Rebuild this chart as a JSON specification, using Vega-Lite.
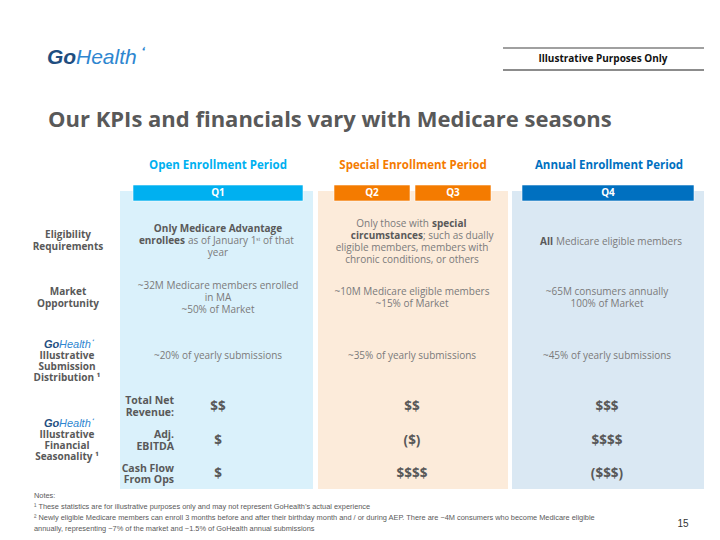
{
  "$schema": "https://vega.github.io/schema/vega-lite/v6.json",
  "width": 720,
  "height": 540,
  "padding": 0,
  "autosize": {"type": "none"},
  "background": "#ffffff",
  "config": {"view": {"stroke": null}, "text": {"font": "Open Sans"}},
  "datasets": {
    "panels": [
      {"p": "bgO", "x": 120, "x2": 313, "y": 191, "y2": 489},
      {"p": "bgS", "x": 318, "x2": 508, "y": 191, "y2": 489},
      {"p": "bgA", "x": 512, "x2": 704, "y": 191, "y2": 489}
    ],
    "bars": [
      {"q": "Q1", "p": "O", "x": 133, "x2": 303, "y": 185, "y2": 201},
      {"q": "Q2", "p": "S", "x": 334, "x2": 410, "y": 185, "y2": 201},
      {"q": "Q3", "p": "S", "x": 415, "x2": 491, "y": 185, "y2": 201},
      {"q": "Q4", "p": "A", "x": 522, "x2": 694, "y": 185, "y2": 201}
    ],
    "headers": [
      {"t": "Open Enrollment Period", "p": "O", "x": 218, "y": 166},
      {"t": "Special Enrollment Period", "p": "S", "x": 413, "y": 166},
      {"t": "Annual Enrollment Period", "p": "A", "x": 609, "y": 166}
    ],
    "rules": [
      {"k": "g", "x": 503, "x2": 704, "y": 48},
      {"k": "k", "x": 503, "x2": 704, "y": 70}
    ],
    "txt": [
      {"s": "title", "t": "Our KPIs and financials vary with Medicare seasons", "x": 48, "y": 127},
      {"s": "ip", "t": "Illustrative Purposes Only", "x": 603, "y": 59},
      {"s": "goB", "t": "Go", "x": 47, "y": 58},
      {"s": "heB", "t": "Health", "x": 76, "y": 58},
      {"s": "leafB", "t": "❛", "x": 141, "y": 51},
      {"s": "goS", "t": "Go", "x": 44, "y": 345},
      {"s": "heS", "t": "Health", "x": 59, "y": 345},
      {"s": "leafS", "t": "❛", "x": 92, "y": 341},
      {"s": "goS", "t": "Go", "x": 44, "y": 424},
      {"s": "heS", "t": "Health", "x": 59, "y": 424},
      {"s": "leafS", "t": "❛", "x": 92, "y": 420},
      {"s": "q", "t": "Q1", "x": 218, "y": 193},
      {"s": "q", "t": "Q2", "x": 372, "y": 193},
      {"s": "q", "t": "Q3", "x": 453, "y": 193},
      {"s": "q", "t": "Q4", "x": 608, "y": 193},
      {"s": "lab", "t": "Eligibility", "x": 68, "y": 235},
      {"s": "lab", "t": "Requirements", "x": 68, "y": 247},
      {"s": "lab", "t": "Market", "x": 68, "y": 292},
      {"s": "lab", "t": "Opportunity", "x": 68, "y": 304},
      {"s": "lab", "t": "Illustrative", "x": 67, "y": 356},
      {"s": "lab", "t": "Submission", "x": 67, "y": 367},
      {"s": "lab", "t": "Distribution ¹", "x": 67, "y": 378},
      {"s": "lab", "t": "Illustrative", "x": 67, "y": 435},
      {"s": "lab", "t": "Financial", "x": 67, "y": 446},
      {"s": "lab", "t": "Seasonality ¹", "x": 67, "y": 457},
      {"s": "b_c", "t": "Only Medicare Advantage", "x": 218, "y": 229},
      {"s": "b_r", "t": "enrollees", "x": 185, "y": 241},
      {"s": "n_l", "t": "as of January 1ˢᵗ of that", "x": 188, "y": 241},
      {"s": "n_c", "t": "year", "x": 218, "y": 253},
      {"s": "n_c", "t": "~32M Medicare members enrolled", "x": 218, "y": 286},
      {"s": "n_c", "t": "in MA", "x": 218, "y": 298},
      {"s": "n_c", "t": "~50% of Market", "x": 218, "y": 310},
      {"s": "n_c", "t": "~20% of yearly submissions", "x": 218, "y": 356},
      {"s": "n_r", "t": "Only those with", "x": 429, "y": 224},
      {"s": "b_l", "t": "special", "x": 432, "y": 224},
      {"s": "b_r", "t": "circumstances", "x": 423, "y": 236},
      {"s": "n_l", "t": "; such as dually", "x": 423, "y": 236},
      {"s": "n_c", "t": "eligible members, members with", "x": 412, "y": 248},
      {"s": "n_c", "t": "chronic conditions, or others", "x": 412, "y": 260},
      {"s": "n_c", "t": "~10M Medicare eligible members", "x": 412, "y": 292},
      {"s": "n_c", "t": "~15% of Market", "x": 412, "y": 304},
      {"s": "n_c", "t": "~35% of yearly submissions", "x": 412, "y": 356},
      {"s": "b_r", "t": "All", "x": 553, "y": 242},
      {"s": "n_l", "t": "Medicare eligible members", "x": 556, "y": 242},
      {"s": "n_c", "t": "~65M consumers annually", "x": 607, "y": 292},
      {"s": "n_c", "t": "100% of Market", "x": 607, "y": 304},
      {"s": "n_c", "t": "~45% of yearly submissions", "x": 607, "y": 356},
      {"s": "fl", "t": "Total Net", "x": 174, "y": 401},
      {"s": "fl", "t": "Revenue:", "x": 174, "y": 413},
      {"s": "fl", "t": "Adj.", "x": 174, "y": 435},
      {"s": "fl", "t": "EBITDA", "x": 174, "y": 447},
      {"s": "fl", "t": "Cash Flow", "x": 174, "y": 469},
      {"s": "fl", "t": "From Ops", "x": 174, "y": 480},
      {"s": "fv", "t": "$$", "x": 218, "y": 407},
      {"s": "fv", "t": "$", "x": 218, "y": 441},
      {"s": "fv", "t": "$", "x": 218, "y": 474},
      {"s": "fv", "t": "$$", "x": 412, "y": 407},
      {"s": "fv", "t": "($)", "x": 412, "y": 441},
      {"s": "fv", "t": "$$$$", "x": 412, "y": 474},
      {"s": "fv", "t": "$$$", "x": 607, "y": 407},
      {"s": "fv", "t": "$$$$", "x": 607, "y": 441},
      {"s": "fv", "t": "($$$)", "x": 607, "y": 474},
      {"s": "note", "t": "Notes:", "x": 34, "y": 496},
      {"s": "note", "t": "¹ These statistics are for illustrative purposes only and may not represent GoHealth’s actual experience", "x": 34, "y": 507},
      {"s": "note", "t": "² Newly eligible Medicare members can enroll 3 months before and after their birthday month and / or during AEP. There are ~4M consumers who become Medicare eligible", "x": 34, "y": 518},
      {"s": "note", "t": "annually, representing ~7% of the market and ~1.5% of GoHealth annual submissions", "x": 34, "y": 529},
      {"s": "pg", "t": "15", "x": 683, "y": 524}
    ]
  },
  "layer": [
    {
      "data": {"name": "panels"},
      "mark": {"type": "rect"},
      "encoding": {
        "x": {"field": "x", "type": "quantitative", "scale": {"domain": [0, 720], "nice": false, "zero": false}, "axis": null},
        "x2": {"field": "x2"},
        "y": {"field": "y", "type": "quantitative", "scale": {"domain": [0, 540], "nice": false, "zero": false, "reverse": true}, "axis": null},
        "y2": {"field": "y2"},
        "fill": {"field": "p", "type": "nominal", "legend": null, "scale": {"domain": ["bgO", "bgS", "bgA", "O", "S", "A"], "range": ["#DAF1FB", "#FCEBDA", "#DAE8F3", "#00B0F0", "#F47B00", "#0070C0"]}}
      }
    },
    {
      "data": {"name": "bars"},
      "mark": {"type": "rect", "stroke": "#ffffff", "strokeWidth": 0.8, "strokeOpacity": 0.7},
      "encoding": {
        "x": {"field": "x", "type": "quantitative", "scale": {"domain": [0, 720], "nice": false, "zero": false}, "axis": null},
        "x2": {"field": "x2"},
        "y": {"field": "y", "type": "quantitative", "scale": {"domain": [0, 540], "nice": false, "zero": false, "reverse": true}, "axis": null},
        "y2": {"field": "y2"},
        "fill": {"field": "p", "type": "nominal", "legend": null, "scale": {"domain": ["bgO", "bgS", "bgA", "O", "S", "A"], "range": ["#DAF1FB", "#FCEBDA", "#DAE8F3", "#00B0F0", "#F47B00", "#0070C0"]}}
      }
    },
    {
      "data": {"name": "rules"},
      "transform": [{"filter": "datum.k === 'g'"}],
      "mark": {"type": "rule", "color": "#808080", "strokeWidth": 1.6},
      "encoding": {
        "x": {"field": "x", "type": "quantitative", "scale": {"domain": [0, 720], "nice": false, "zero": false}, "axis": null},
        "x2": {"field": "x2"},
        "y": {"field": "y", "type": "quantitative", "scale": {"domain": [0, 540], "nice": false, "zero": false, "reverse": true}, "axis": null}
      }
    },
    {
      "data": {"name": "rules"},
      "transform": [{"filter": "datum.k === 'k'"}],
      "mark": {"type": "rule", "color": "#1a1a1a", "strokeWidth": 1.2},
      "encoding": {
        "x": {"field": "x", "type": "quantitative", "scale": {"domain": [0, 720], "nice": false, "zero": false}, "axis": null},
        "x2": {"field": "x2"},
        "y": {"field": "y", "type": "quantitative", "scale": {"domain": [0, 540], "nice": false, "zero": false, "reverse": true}, "axis": null}
      }
    },
    {
      "data": {"name": "headers"},
      "mark": {"type": "text", "font": "Open Sans", "fontWeight": "bold", "fontSize": 11.5, "align": "center", "baseline": "middle"},
      "encoding": {
        "x": {"field": "x", "type": "quantitative", "scale": {"domain": [0, 720], "nice": false, "zero": false}, "axis": null},
        "y": {"field": "y", "type": "quantitative", "scale": {"domain": [0, 540], "nice": false, "zero": false, "reverse": true}, "axis": null},
        "text": {"field": "t"},
        "fill": {"field": "p", "type": "nominal", "legend": null, "scale": {"domain": ["bgO", "bgS", "bgA", "O", "S", "A"], "range": ["#DAF1FB", "#FCEBDA", "#DAE8F3", "#00B0F0", "#F47B00", "#0070C0"]}}
      }
    },
    {
      "data": {"name": "txt"},
      "layer": [
        {"transform": [{"filter": "datum.s === 'title'"}], "mark": {"type": "text", "font": "Open Sans", "fontWeight": "bold", "fontSize": 22, "align": "left", "baseline": "alphabetic", "color": "#595959"}},
        {"transform": [{"filter": "datum.s === 'ip'"}], "mark": {"type": "text", "font": "Open Sans", "fontWeight": "bold", "fontSize": 10, "align": "center", "baseline": "middle", "color": "#111111"}},
        {"transform": [{"filter": "datum.s === 'goB'"}], "mark": {"type": "text", "font": "Liberation Sans", "fontWeight": "bold", "fontStyle": "italic", "fontSize": 21, "align": "left", "baseline": "middle", "color": "#1F4E80"}},
        {"transform": [{"filter": "datum.s === 'heB'"}], "mark": {"type": "text", "font": "Liberation Sans", "fontStyle": "italic", "fontSize": 21, "align": "left", "baseline": "middle", "color": "#2E86D0"}},
        {"transform": [{"filter": "datum.s === 'leafB'"}], "mark": {"type": "text", "font": "DejaVu Sans", "fontSize": 11, "align": "left", "baseline": "middle", "color": "#2E86D0", "angle": 20}},
        {"transform": [{"filter": "datum.s === 'goS'"}], "mark": {"type": "text", "font": "Liberation Sans", "fontWeight": "bold", "fontStyle": "italic", "fontSize": 11, "align": "left", "baseline": "middle", "color": "#1F4E80"}},
        {"transform": [{"filter": "datum.s === 'heS'"}], "mark": {"type": "text", "font": "Liberation Sans", "fontStyle": "italic", "fontSize": 11, "align": "left", "baseline": "middle", "color": "#2E86D0"}},
        {"transform": [{"filter": "datum.s === 'leafS'"}], "mark": {"type": "text", "font": "DejaVu Sans", "fontSize": 6, "align": "left", "baseline": "middle", "color": "#2E86D0", "angle": 20}},
        {"transform": [{"filter": "datum.s === 'q'"}], "mark": {"type": "text", "font": "Open Sans", "fontWeight": "bold", "fontSize": 10, "align": "center", "baseline": "middle", "color": "#ffffff"}},
        {"transform": [{"filter": "datum.s === 'lab'"}], "mark": {"type": "text", "font": "Open Sans", "fontWeight": "bold", "fontSize": 10, "align": "center", "baseline": "middle", "color": "#595959"}},
        {"transform": [{"filter": "datum.s === 'b_c'"}], "mark": {"type": "text", "font": "Open Sans", "fontWeight": "bold", "fontSize": 10, "align": "center", "baseline": "middle", "color": "#595959"}},
        {"transform": [{"filter": "datum.s === 'b_r'"}], "mark": {"type": "text", "font": "Open Sans", "fontWeight": "bold", "fontSize": 10, "align": "right", "baseline": "middle", "color": "#595959"}},
        {"transform": [{"filter": "datum.s === 'b_l'"}], "mark": {"type": "text", "font": "Open Sans", "fontWeight": "bold", "fontSize": 10, "align": "left", "baseline": "middle", "color": "#595959"}},
        {"transform": [{"filter": "datum.s === 'n_c'"}], "mark": {"type": "text", "font": "Open Sans", "fontSize": 10, "align": "center", "baseline": "middle", "color": "#7A7A7A"}},
        {"transform": [{"filter": "datum.s === 'n_l'"}], "mark": {"type": "text", "font": "Open Sans", "fontSize": 10, "align": "left", "baseline": "middle", "color": "#7A7A7A"}},
        {"transform": [{"filter": "datum.s === 'n_r'"}], "mark": {"type": "text", "font": "Open Sans", "fontSize": 10, "align": "right", "baseline": "middle", "color": "#7A7A7A"}},
        {"transform": [{"filter": "datum.s === 'fl'"}], "mark": {"type": "text", "font": "Open Sans", "fontWeight": "bold", "fontSize": 10.5, "align": "right", "baseline": "middle", "color": "#595959"}},
        {"transform": [{"filter": "datum.s === 'fv'"}], "mark": {"type": "text", "font": "Open Sans", "fontWeight": "bold", "fontSize": 13.5, "align": "center", "baseline": "middle", "color": "#595959"}},
        {"transform": [{"filter": "datum.s === 'note'"}], "mark": {"type": "text", "font": "Liberation Sans", "fontSize": 7.4, "align": "left", "baseline": "middle", "color": "#595959"}},
        {"transform": [{"filter": "datum.s === 'pg'"}], "mark": {"type": "text", "font": "Liberation Sans", "fontSize": 10, "align": "center", "baseline": "middle", "color": "#333333"}}
      ],
      "encoding": {
        "x": {"field": "x", "type": "quantitative", "scale": {"domain": [0, 720], "nice": false, "zero": false}, "axis": null},
        "y": {"field": "y", "type": "quantitative", "scale": {"domain": [0, 540], "nice": false, "zero": false, "reverse": true}, "axis": null},
        "text": {"field": "t"}
      }
    }
  ]
}
